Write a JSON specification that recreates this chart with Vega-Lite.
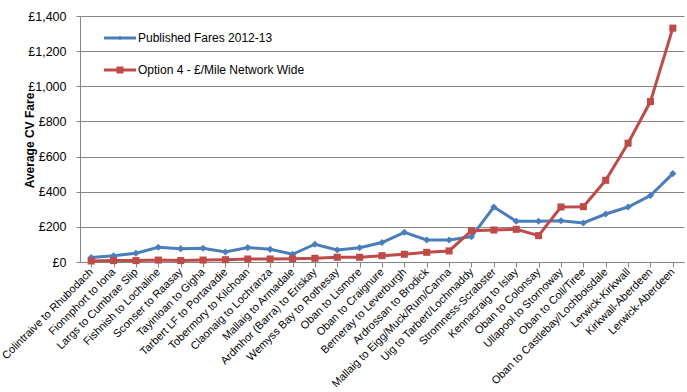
{
  "$schema": "https://vega.github.io/schema/vega-lite/v6.json",
  "width": 604,
  "height": 246,
  "autosize": "none",
  "padding": {"left": 80, "top": 16, "right": 3, "bottom": 130},
  "background": "white",
  "data": {
    "values": [
      {"route": "Colintraive to Rhubodach", "i": 1, "series": "Published Fares 2012-13", "fare": 25},
      {"route": "Fionnphort to Iona", "i": 2, "series": "Published Fares 2012-13", "fare": 35},
      {"route": "Largs to Cumbrae Slip", "i": 3, "series": "Published Fares 2012-13", "fare": 50},
      {"route": "Fishnish to Lochaline", "i": 4, "series": "Published Fares 2012-13", "fare": 84},
      {"route": "Sconser to Raasay", "i": 5, "series": "Published Fares 2012-13", "fare": 76},
      {"route": "Tayinloan to Gigha", "i": 6, "series": "Published Fares 2012-13", "fare": 78},
      {"route": "Tarbert LF to Portavadie", "i": 7, "series": "Published Fares 2012-13", "fare": 57},
      {"route": "Tobermory to Kilchoan", "i": 8, "series": "Published Fares 2012-13", "fare": 82},
      {"route": "Claonaig to Lochranza", "i": 9, "series": "Published Fares 2012-13", "fare": 72},
      {"route": "Mallaig to Armadale", "i": 10, "series": "Published Fares 2012-13", "fare": 44},
      {"route": "Ardmhor (Barra) to Eriskay", "i": 11, "series": "Published Fares 2012-13", "fare": 101},
      {"route": "Wemyss Bay to Rothesay", "i": 12, "series": "Published Fares 2012-13", "fare": 68},
      {"route": "Oban to Lismore", "i": 13, "series": "Published Fares 2012-13", "fare": 81},
      {"route": "Oban to Craignure", "i": 14, "series": "Published Fares 2012-13", "fare": 111},
      {"route": "Berneray to Leverburgh", "i": 15, "series": "Published Fares 2012-13", "fare": 169},
      {"route": "Ardrossan to Brodick", "i": 16, "series": "Published Fares 2012-13", "fare": 125},
      {"route": "Mallaig to Eigg/Muck/Rum/Canna", "i": 17, "series": "Published Fares 2012-13", "fare": 125},
      {"route": "Uig to Tarbert/Lochmaddy", "i": 18, "series": "Published Fares 2012-13", "fare": 144},
      {"route": "Stromness-Scrabster", "i": 19, "series": "Published Fares 2012-13", "fare": 313},
      {"route": "Kennacraig to Islay", "i": 20, "series": "Published Fares 2012-13", "fare": 232},
      {"route": "Oban to Colonsay", "i": 21, "series": "Published Fares 2012-13", "fare": 232},
      {"route": "Ullapool to Stornoway", "i": 22, "series": "Published Fares 2012-13", "fare": 235},
      {"route": "Oban to Coll/Tiree", "i": 23, "series": "Published Fares 2012-13", "fare": 222},
      {"route": "Oban to Castlebay/Lochboisdale", "i": 24, "series": "Published Fares 2012-13", "fare": 273},
      {"route": "Lerwick-Kirkwall", "i": 25, "series": "Published Fares 2012-13", "fare": 313},
      {"route": "Kirkwall-Aberdeen", "i": 26, "series": "Published Fares 2012-13", "fare": 378},
      {"route": "Lerwick-Aberdeen", "i": 27, "series": "Published Fares 2012-13", "fare": 503},
      {"route": "Colintraive to Rhubodach", "i": 1, "series": "Option 4 - £/Mile Network Wide", "fare": 6},
      {"route": "Fionnphort to Iona", "i": 2, "series": "Option 4 - £/Mile Network Wide", "fare": 8},
      {"route": "Largs to Cumbrae Slip", "i": 3, "series": "Option 4 - £/Mile Network Wide", "fare": 8},
      {"route": "Fishnish to Lochaline", "i": 4, "series": "Option 4 - £/Mile Network Wide", "fare": 11},
      {"route": "Sconser to Raasay", "i": 5, "series": "Option 4 - £/Mile Network Wide", "fare": 8},
      {"route": "Tayinloan to Gigha", "i": 6, "series": "Option 4 - £/Mile Network Wide", "fare": 11},
      {"route": "Tarbert LF to Portavadie", "i": 7, "series": "Option 4 - £/Mile Network Wide", "fare": 13},
      {"route": "Tobermory to Kilchoan", "i": 8, "series": "Option 4 - £/Mile Network Wide", "fare": 17},
      {"route": "Claonaig to Lochranza", "i": 9, "series": "Option 4 - £/Mile Network Wide", "fare": 17},
      {"route": "Mallaig to Armadale", "i": 10, "series": "Option 4 - £/Mile Network Wide", "fare": 18},
      {"route": "Ardmhor (Barra) to Eriskay", "i": 11, "series": "Option 4 - £/Mile Network Wide", "fare": 21},
      {"route": "Wemyss Bay to Rothesay", "i": 12, "series": "Option 4 - £/Mile Network Wide", "fare": 27},
      {"route": "Oban to Lismore", "i": 13, "series": "Option 4 - £/Mile Network Wide", "fare": 27},
      {"route": "Oban to Craignure", "i": 14, "series": "Option 4 - £/Mile Network Wide", "fare": 36},
      {"route": "Berneray to Leverburgh", "i": 15, "series": "Option 4 - £/Mile Network Wide", "fare": 44},
      {"route": "Ardrossan to Brodick", "i": 16, "series": "Option 4 - £/Mile Network Wide", "fare": 55},
      {"route": "Mallaig to Eigg/Muck/Rum/Canna", "i": 17, "series": "Option 4 - £/Mile Network Wide", "fare": 63},
      {"route": "Uig to Tarbert/Lochmaddy", "i": 18, "series": "Option 4 - £/Mile Network Wide", "fare": 178},
      {"route": "Stromness-Scrabster", "i": 19, "series": "Option 4 - £/Mile Network Wide", "fare": 182},
      {"route": "Kennacraig to Islay", "i": 20, "series": "Option 4 - £/Mile Network Wide", "fare": 186},
      {"route": "Oban to Colonsay", "i": 21, "series": "Option 4 - £/Mile Network Wide", "fare": 150},
      {"route": "Ullapool to Stornoway", "i": 22, "series": "Option 4 - £/Mile Network Wide", "fare": 313},
      {"route": "Oban to Coll/Tiree", "i": 23, "series": "Option 4 - £/Mile Network Wide", "fare": 315},
      {"route": "Oban to Castlebay/Lochboisdale", "i": 24, "series": "Option 4 - £/Mile Network Wide", "fare": 465},
      {"route": "Lerwick-Kirkwall", "i": 25, "series": "Option 4 - £/Mile Network Wide", "fare": 676},
      {"route": "Kirkwall-Aberdeen", "i": 26, "series": "Option 4 - £/Mile Network Wide", "fare": 913},
      {"route": "Lerwick-Aberdeen", "i": 27, "series": "Option 4 - £/Mile Network Wide", "fare": 1331}
    ]
  },
  "encoding": {
    "x": {
      "field": "route",
      "type": "ordinal",
      "sort": {"field": "i"},
      "scale": {"paddingInner": 0, "paddingOuter": 0},
      "title": null,
      "axis": {
        "bandPosition": 0,
        "grid": false,
        "ticks": true,
        "tickSize": 5,
        "tickColor": "#868686",
        "domainColor": "#868686",
        "labelAngle": -45,
        "labelAlign": "right",
        "labelBaseline": "middle",
        "labelFontSize": 11,
        "labelColor": "#000",
        "labelPadding": 3,
        "labelDx": 11.2,
        "labelOverlap": false,
        "labelBound": false,
        "labelLimit": 300
      }
    },
    "y": {
      "field": "fare",
      "type": "quantitative",
      "scale": {"domain": [0, 1400], "nice": false},
      "title": "Average CV Fare",
      "axis": {
        "values": [0, 200, 400, 600, 800, 1000, 1200, 1400],
        "labelExpr": "'£' + format(datum.value, ',')",
        "labelFontSize": 12.5,
        "labelColor": "#000",
        "labelPadding": 10,
        "tickSize": 4,
        "tickColor": "#868686",
        "domainColor": "#868686",
        "gridColor": "#868686",
        "gridWidth": 1,
        "titleFontSize": 12,
        "titleFontWeight": "bold",
        "titleColor": "#000",
        "titleX": -44,
        "titleY": 124
      }
    },
    "color": {
      "field": "series",
      "type": "nominal",
      "sort": ["Published Fares 2012-13", "Option 4 - £/Mile Network Wide"],
      "scale": {"range": ["#4A7EBB", "#BE4B48"]},
      "title": null,
      "legend": {
        "orient": "none",
        "legendX": 24,
        "legendY": 6,
        "labelFontSize": 12,
        "labelColor": "#000",
        "labelLimit": 300,
        "rowPadding": 10,
        "labelOffset": 2,
        "symbolSize": 1024,
        "encode": {
          "symbols": {
            "update": {
              "shape": {"signal": "datum.value === 'Published Fares 2012-13' ? 'M-1,-0.09H1V0.09H-1Z M-0.16,0L0,-0.16L0.16,0L0,0.16Z' : 'M-1,-0.09H1V0.09H-1Z M-0.22,-0.22H0.22V0.22H-0.22Z'"},
              "size": {"value": 1024},
              "fill": {"signal": "datum.value === 'Published Fares 2012-13' ? '#4A7EBB' : '#BE4B48'"},
              "strokeWidth": {"value": 0},
              "opacity": {"value": 1}
            }
          }
        }
      }
    }
  },
  "layer": [
    {
      "mark": {"type": "line", "strokeWidth": 3}
    },
    {
      "mark": {"type": "point", "filled": true, "opacity": 1},
      "encoding": {
        "shape": {
          "field": "series",
          "type": "nominal",
          "sort": ["Published Fares 2012-13", "Option 4 - £/Mile Network Wide"],
          "scale": {"range": ["diamond", "square"]},
          "legend": null
        },
        "size": {"value": 50}
      }
    }
  ],
  "config": {
    "font": "Liberation Sans",
    "view": {"stroke": null}
  }
}
